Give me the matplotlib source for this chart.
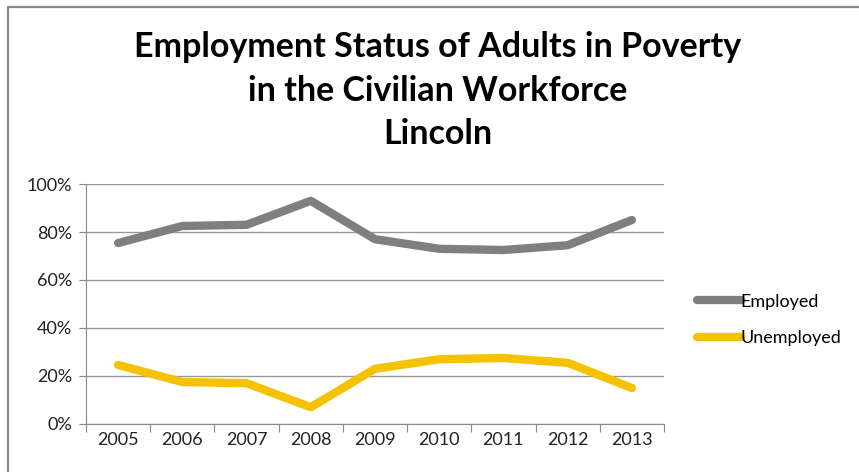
import matplotlib.pyplot as plt
from matplotlib.lines import Line2D
from matplotlib.ticker import PercentFormatter

plt.rcParams['font.family'] = ['Lato', 'DejaVu Sans']

years = ['2005', '2006', '2007', '2008', '2009', '2010', '2011', '2012', '2013']
employed = [75.4, 82.5, 83.0, 93.0, 77.0, 73.0, 72.5, 74.5, 85.0]
unemployed = [24.6, 17.5, 17.0, 7.0, 23.0, 27.0, 27.5, 25.5, 15.0]

W, H = 859, 472
fig = plt.figure(figsize=(W / 100, H / 100), dpi=100)
ax = fig.add_axes([86/W, 48/H, 578/W, 240/H])

x = range(len(years))
ax.plot(x, employed, color='#7f7f7f', linewidth=6, solid_capstyle='round', label='Employed')
ax.plot(x, unemployed, color='#f5c200', linewidth=6, solid_capstyle='round', label='Unemployed')

ax.set_xlim(-0.5, len(years) - 0.5)
ax.set_ylim(0, 100)
ax.set_yticks(range(0, 101, 20))
ax.yaxis.set_major_formatter(PercentFormatter(decimals=0))
# category labels between boundary ticks, like Excel
ax.set_xticks([i - 0.5 for i in range(len(years) + 1)])
ax.set_xticklabels([])
ax.set_xticks(list(x), minor=True)
ax.set_xticklabels(years, minor=True)
ax.tick_params(axis='x', which='minor', length=0, labelsize=13, colors='#222222', pad=6)
ax.tick_params(axis='x', which='major', length=6, color='#888888')
ax.tick_params(axis='y', length=5, color='#888888', labelsize=13, labelcolor='#222222', pad=5)

ax.grid(axis='y', color='#999999', linewidth=1)
ax.set_axisbelow(True)
for s in ['top', 'right']:
    ax.spines[s].set_visible(False)
ax.spines['left'].set_color('#888888')
ax.spines['bottom'].set_color('#888888')

fig.text(438/W, 1 - 31/H,
         'Employment Status of Adults in Poverty\nin the Civilian Workforce\nLincoln',
         ha='center', va='top', fontsize=24.5, fontweight='bold', linespacing=1.45)

fig.legend(loc='center left', bbox_to_anchor=(690/W, 1 - 320/H), frameon=False,
           fontsize=13, handlelength=2.4, handletextpad=0.0, labelspacing=1.15,
           borderaxespad=0)

# chart border: only left and top edges are visible
fig.add_artist(Line2D([7.5/W, 7.5/W, 1], [0, 1 - 6.5/H, 1 - 6.5/H],
                      transform=fig.transFigure, color='#888888', linewidth=1.6))

fig.savefig('out.png', dpi=100)
